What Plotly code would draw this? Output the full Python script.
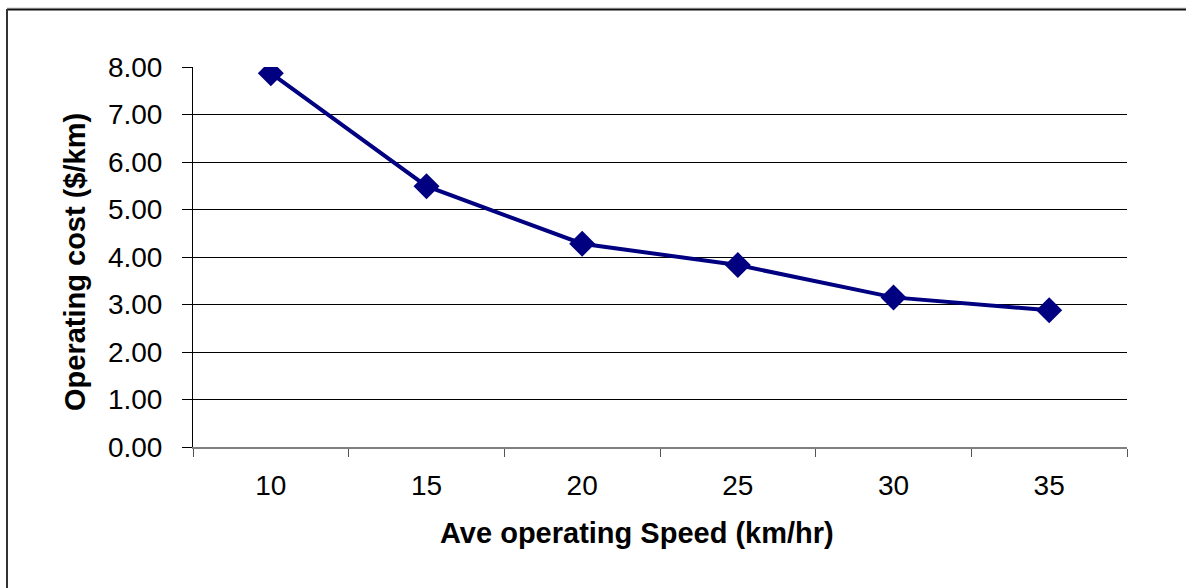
import plotly.graph_objects as go

speeds = ["10", "15", "20", "25", "30", "35"]
costs = [7.87, 5.49, 4.28, 3.83, 3.15, 2.88]
y_ticks = [0, 1, 2, 3, 4, 5, 6, 7, 8]
y_tick_labels = ["0.00", "1.00", "2.00", "3.00", "4.00", "5.00", "6.00", "7.00", "8.00"]
x_title = "Ave operating Speed (km/hr)"
y_title = "Operating cost ($/km)"

W, H = 1186, 588
L, R, T, B = 193, 59, 67, 141
pw, ph = W - L - R, H - T - B

FONT = "Liberation Sans, Arial, sans-serif"
NAVY = "#000080"

fig = go.Figure()
fig.add_trace(go.Scatter(
    x=speeds, y=costs, mode="lines+markers",
    line=dict(color=NAVY, width=4),
    marker=dict(symbol="diamond", size=20, color=NAVY),
    showlegend=False,
))

def px_x(x):
    return (x - L) / pw

def px_y(y):
    return (H - B - y) / ph

shapes = [
    dict(type="line", xref="paper", yref="paper", x0=px_x(7), x1=px_x(W + 5), y0=px_y(8), y1=px_y(8),
         line=dict(color="#cccccc", width=1)),
    dict(type="line", xref="paper", yref="paper", x0=px_x(7), x1=px_x(W + 5), y0=px_y(9.5), y1=px_y(9.5),
         line=dict(color="#111111", width=2)),
    dict(type="line", xref="paper", yref="paper", x0=px_x(7), x1=px_x(7), y0=px_y(9), y1=px_y(H + 5),
         line=dict(color="#333333", width=2)),
]

annotations = [
    dict(text="<b>" + x_title + "</b>", xref="paper", yref="paper", x=px_x(637), y=px_y(533),
         xanchor="center", yanchor="middle", showarrow=False,
         font=dict(size=29, family=FONT, color="black")),
    dict(text="<b>" + y_title + "</b>", xref="paper", yref="paper", x=px_x(75), y=px_y(262),
         xanchor="center", yanchor="middle", showarrow=False, textangle=-90,
         font=dict(size=29, family=FONT, color="black")),
]

fig.update_layout(
    width=W, height=H,
    margin=dict(l=L, r=R, t=T, b=B, pad=0),
    paper_bgcolor="white", plot_bgcolor="white",
    font=dict(family=FONT, color="black"),
    shapes=shapes,
    annotations=annotations,
    xaxis=dict(
        type="category", tickson="boundaries", ticks="outside", ticklen=8, tickwidth=1,
        tickcolor="#555555", showgrid=False, showline=True, linecolor="#808080", linewidth=2,
        tickfont=dict(size=28, family=FONT, color="black"), ticklabelstandoff=12,
        range=[-0.5, 5.5], zeroline=False,
    ),
    yaxis=dict(
        range=[0, 8], tickvals=y_ticks, ticktext=y_tick_labels, ticks="outside", ticklen=10,
        tickwidth=1, tickcolor="black", showgrid=True, gridcolor="black", gridwidth=1,
        showline=True, linecolor="black", linewidth=1, zeroline=False,
        tickfont=dict(size=28, family=FONT, color="black"), ticklabelstandoff=14,
    ),
)

fig.write_html("out.html")
